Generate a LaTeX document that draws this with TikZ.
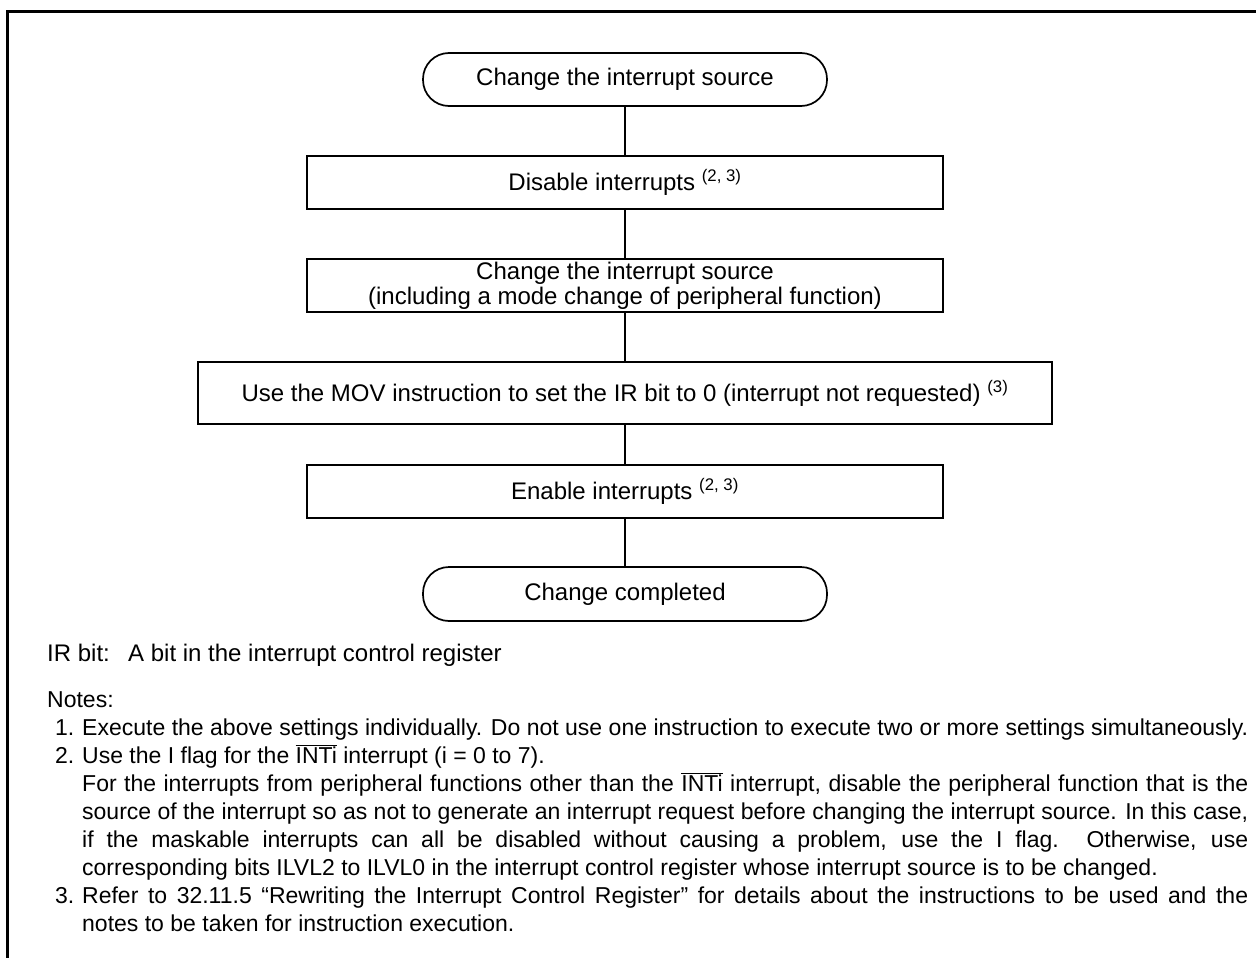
\documentclass[tikz,border=0pt]{standalone}
\usepackage{fontspec}
\setmainfont{Liberation Sans}
\usetikzlibrary{positioning}

\newcommand{\fullline}[1]{\makebox[1166pt][s]{#1}}
\newcommand{\intibar}{$\overline{\mbox{INTi}}$}

\begin{document}
\begin{tikzpicture}[x=1pt, y=-1pt,
  every node/.style={font=\fontsize{24}{25}\selectfont},
  stepbox/.style={draw, line width=1.7pt, minimum width=636pt, minimum height=53pt, align=center, inner sep=0pt},
  termbox/.style={stepbox, rounded corners=26pt, minimum width=404pt},
  link/.style={line width=1.7pt},
  notetext/.style={anchor=base west, inner sep=0pt, font=\fontsize{23}{28}\selectfont}
]
\useasboundingbox (0,0) rectangle (1256,958);
\draw[line width=3pt] (7.5,958) -- (7.5,11.5) -- (1256,11.5);

% flow
\node[termbox] (start) at (625,79.5) {Change the interrupt source};
\node[stepbox] (disable) at (625,182.5) {Disable interrupts \textsuperscript{(2, 3)}};
\node[stepbox] (change) at (625,285.5) {Change the interrupt source\\(including a mode change of peripheral function)};
\node[stepbox, minimum width=854pt, minimum height=62pt] (clearir) at (625,393) {Use the MOV instruction to set the IR bit to 0 (interrupt not requested) \textsuperscript{(3)}};
\node[stepbox] (enable) at (625,491.5) {Enable interrupts \textsuperscript{(2, 3)}};
\node[termbox, minimum height=54pt] (done) at (625,594) {Change completed};

\draw[link] (start) -- (disable);
\draw[link] (disable) -- (change);
\draw[link] (change) -- (clearir);
\draw[link] (clearir) -- (enable);
\draw[link] (enable) -- (done);

% notes
\node[notetext, font=\fontsize{24}{28}\selectfont] (irbit) at (47,661) {\makebox[81pt][l]{IR bit:}A bit in the interrupt control register};
\node[notetext] (notes) at (47,707) {Notes:};

\node[notetext] (numa) at (55,735) {1.};
\node[notetext] (notea) at (82,735) {\fullline{Execute the above settings individually. Do not use one instruction to execute two or more settings simultaneously.}};
\node[notetext] (numb) at (55,763) {2.};
\node[notetext] (noteb) at (82,763) {Use the I flag for the \intibar{} interrupt (i = 0 to 7).};
\node[notetext] (notec) at (82,791) {\fullline{For the interrupts from peripheral functions other than the \intibar{} interrupt, disable the peripheral function that is the}};
\node[notetext] (noted) at (82,819) {\fullline{source of the interrupt so as not to generate an interrupt request before changing the interrupt source. In this case,}};
\node[notetext] (notee) at (82,847) {\fullline{if the maskable interrupts can all be disabled without causing a problem, use the I flag. Otherwise, use}};
\node[notetext] (notef) at (82,875) {corresponding bits ILVL2 to ILVL0 in the interrupt control register whose interrupt source is to be changed.};
\node[notetext] (numc) at (55,903) {3.};
\node[notetext] (noteg) at (82,903) {\fullline{Refer to 32.11.5 “Rewriting the Interrupt Control Register” for details about the instructions to be used and the}};
\node[notetext] (noteh) at (82,931) {notes to be taken for instruction execution.};

\end{tikzpicture}
\end{document}
